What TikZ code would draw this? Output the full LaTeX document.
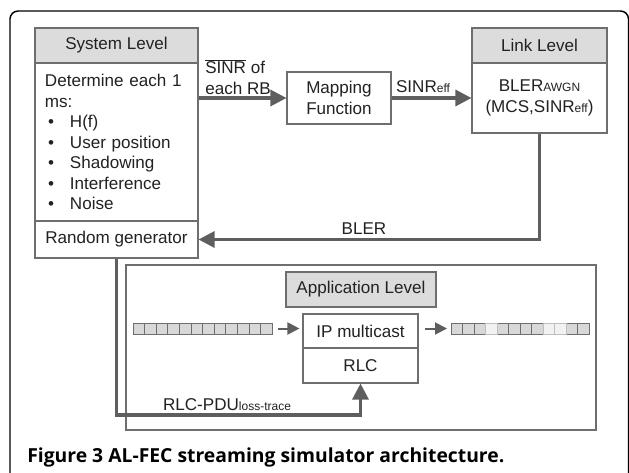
\documentclass[tikz,border=0pt]{standalone}
\usepackage{fontspec}
\setmainfont{Liberation Sans}
\newfontfamily\capfont{Open Sans}
\usetikzlibrary{arrows.meta}

\definecolor{boxgray}{HTML}{6E6E6E}
\definecolor{headgray}{HTML}{DCDCDC}
\definecolor{arrowgray}{HTML}{5E5E5E}
\definecolor{pktgray}{HTML}{D8D8D8}
\definecolor{lostgray}{HTML}{F2F2F2}
\definecolor{textblack}{HTML}{222222}

\newcommand{\bodyfont}{\fontsize{12.8}{15.4}\selectfont}
\newcommand{\lowtext}[1]{{\fontsize{9}{9}\selectfont #1}}
\newcommand{\bul}{\hspace*{2.25pt}\makebox[16.5pt][l]{\textbullet}}

\begin{document}
\begin{tikzpicture}[x=0.75pt, y=-0.75pt,
    every node/.style={font=\bodyfont, text=textblack},
    box/.style={draw=boxgray, line width=0.8pt, fill=white, inner sep=0pt},
    head/.style={box, fill=headgray},
    lbl/.style={inner sep=0pt},
    cell/.style={draw=boxgray, line width=0.5pt, fill=pktgray},
    lostcell/.style={draw=boxgray!45, line width=0.5pt, fill=lostgray},
    flow/.style={draw=arrowgray, line width=2.3pt, -{Triangle[length=12pt,width=12pt]}},
    pktflow/.style={draw=arrowgray, line width=1.5pt, -{Triangle[length=9pt,width=9pt]}}]
    \useasboundingbox (0,0) rectangle (629,472);
    \clip (0,0) rectangle (629,472);
    % outer frame
    \draw[black, line width=1.1pt, rounded corners=6pt] (10,495) -- (10,11) -- (628.5,11) -- (628.5,495);

    % system level
    \node[head, minimum width=122.25pt, minimum height=26.25pt] (sysHead) at (116.5,45.5) {System Level};
    \node[box, minimum width=122.25pt, minimum height=118.5pt, text width=107.25pt, align=left] (sysBody) at (116.5,142)
        {Determine each 1\\ms:\\\bul H(f)\\\bul User position\\\bul Shadowing\\\bul Interference\\\bul Noise};
    \node[box, minimum width=122.25pt, minimum height=27.75pt] (randGen) at (116.5,239.5) {Random generator};

    % mapping and link level
    \node[box, minimum width=78pt, minimum height=39pt, align=center] (mapFn) at (339,98) {Mapping\\Function};
    \node[head, minimum width=101.25pt, minimum height=26.25pt] (linkHead) at (539.5,45.5) {Link Level};
    \node[box, minimum width=101.25pt, minimum height=52.5pt, align=center] (linkBody) at (539.5,98)
        {BLER\lowtext{AWGN}\\(MCS,SINR\lowtext{eff})};

    % application level
    \node[box, minimum width=352.5pt, minimum height=123.75pt] (appFrame) at (361,347.5) {};
    \node[head, minimum width=112.5pt, minimum height=26.25pt] (appHead) at (361,289.5) {Application Level};
    \node[box, minimum width=86.25pt, minimum height=25.5pt] (ipBox) at (360.5,331) {IP multicast};
    \node[box, minimum width=86.25pt, minimum height=26.25pt] (rlcBox) at (360.5,365.5) {RLC};

    % packets
    \foreach \i in {0,...,11}
        \draw[cell] (133+\i*11.6,323) rectangle ++(11.6,11);
    \foreach \i in {0,1,2,4,5,6,7,10,11}
        \draw[cell] (451+\i*11.5,323) rectangle ++(11.5,11);
    \foreach \i in {3,8,9}
        \draw[lostcell] (451+\i*11.5,323) rectangle ++(11.5,11);
    \coordinate (pktIn) at (278,328.5);
    \coordinate (pktOut) at (447,328.5);
    \draw[pktflow, shorten >=2.25pt] (pktIn) -- (pktIn -| ipBox.west);
    \draw[pktflow, shorten <=4.5pt] (ipBox.east |- pktOut) -- (pktOut);

    % connectors
    \draw[flow] (sysBody.east |- mapFn.west) -- (mapFn.west);
    \draw[flow] (mapFn.east) -- (linkBody.west);
    \draw[flow] (linkBody.south) |- (randGen.east);
    \coordinate (traceTurn) at (360.5,415);
    \draw[flow] (randGen.south) |- (traceTurn) -- (rlcBox.south);

    % labels
    \node[lbl, align=left] (sinrLbl) at (238,77) {$\overline{\mbox{SINR}}$ of\\each RB};
    \node[lbl] (effLbl) at (423,87) {SINR\lowtext{eff}};
    \node[lbl] (blerLbl) at (364,229) {BLER};
    \node[lbl] (traceLbl) at (227,405) {RLC-PDU\lowtext{loss-trace}};

    % caption
    \node[lbl, anchor=base west, font={\capfont\bfseries\fontsize{14.5}{17}\selectfont}, text=black] (caption) at (27,462)
        {Figure 3 AL-FEC streaming simulator architecture.};
\end{tikzpicture}
\end{document}
